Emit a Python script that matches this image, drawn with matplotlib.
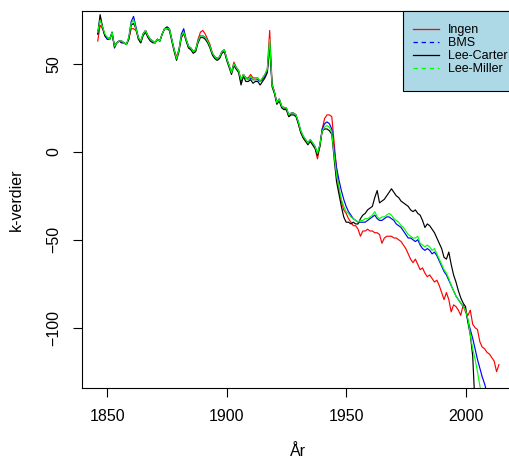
import matplotlib.pyplot as plt
from matplotlib.lines import Line2D
from matplotlib.patches import Rectangle

plt.rcParams['font.family'] = ['Liberation Sans', 'DejaVu Sans']

years = list(range(1846, 2015))

# k-verdier per metode, 1846-2014
ingen = [
    63, 72, 70, 66,
    64, 64, 67, 60, 62, 63, 62, 62, 61, 64,
    70, 70, 69, 65, 63, 67, 69, 66, 64, 63,
    62, 64, 63, 67, 70, 71, 70, 64, 58, 54,
    58, 65, 67, 64, 60, 59, 57, 58, 64, 68,
    69, 67, 64, 61, 56, 54, 53, 54, 57, 58,
    53, 49, 45, 51, 48, 46, 41, 44, 42, 42,
    44, 42, 42, 42, 40, 42, 44, 47, 69, 39,
    34, 28, 30, 26, 25, 24, 20, 22, 22, 21,
    16, 11, 8, 6, 5, 6, 4, 2, -4, 3,
    13, 19, 21, 21, 20, 5, -10, -22, -28, -33,
    -35, -38, -40, -42, -42, -44, -48, -45, -45, -44,
    -45, -45, -46, -46, -47, -52, -49, -48, -48, -48,
    -49, -49, -50, -51, -53, -55, -58, -61, -63, -61,
    -64, -67, -66, -69, -71, -70, -72, -74, -73, -76,
    -80, -84, -80, -84, -91, -87, -88, -90, -93, -87,
    -91, -93, -90, -98, -100, -101, -108, -111, -112, -114,
    -115, -117, -119, -125, -121,
]

bms = [
    67, 76, 71, 66,
    64, 64, 68, 59, 62, 63, 62, 62, 61, 65,
    74, 77, 71, 65, 62, 67, 69, 66, 64, 63,
    62, 64, 63, 67, 70, 71, 70, 64, 58, 53,
    58, 67, 70, 64, 60, 59, 57, 58, 63, 66,
    66, 65, 63, 60, 56, 54, 53, 54, 57, 58,
    53, 49, 45, 50, 48, 46, 40, 44, 42, 41,
    42, 41, 41, 41, 40, 41, 43, 46, 62, 38,
    34, 28, 30, 26, 25, 25, 21, 22, 22, 21,
    17, 12, 9, 7, 5, 7, 5, 3, -1, 4,
    13, 16, 17, 16, 13, 1, -9, -16, -22, -27,
    -31, -34, -36, -38, -39, -40, -40, -40, -40, -39,
    -38, -37, -36, -38, -39, -39, -38, -37, -37, -38,
    -39, -41, -42, -43, -45, -47, -49, -49, -50, -51,
    -50, -53, -55, -56, -55, -56, -58, -57, -59, -62,
    -65, -68, -70, -73, -76, -79, -82, -84, -86, -88,
    -90, -96, -101, -106, -112, -118, -123, -128, -132, -137,
    -142, -147, -152, -157, -162,
]

lee_carter = [
    67, 78, 71, 66,
    65, 64, 68, 60, 62, 63, 63, 62, 61, 64,
    72, 73, 70, 64, 62, 66, 68, 65, 63, 62,
    62, 64, 63, 67, 70, 70, 69, 63, 57, 52,
    57, 65, 68, 63, 59, 58, 56, 57, 62, 65,
    65, 64, 62, 59, 55, 53, 52, 53, 56, 57,
    52, 48, 44, 49, 47, 45, 38, 43, 40, 40,
    41, 39, 40, 40, 38, 40, 42, 45, 60, 37,
    33, 27, 29, 25, 24, 24, 20, 21, 21, 20,
    16, 11, 8, 6, 4, 6, 4, 2, -2, 3,
    12, 13, 13, 12, 10, -4, -17, -24, -31, -37,
    -40, -40, -41, -40, -41, -41, -38, -36, -35, -33,
    -32, -31, -26, -22, -29, -28, -27, -25, -23, -21,
    -23, -25, -26, -28, -29, -30, -31, -33, -34, -33,
    -35, -36, -39, -43, -41, -42, -44, -46, -49, -52,
    -55, -60, -61, -57, -64, -70, -74, -79, -83, -86,
    -88, -97, -104, -116, -145, -156, -163, -170, -177, -184,
    -191, -198, -205, -212, -219,
]

lee_miller = [
    68, 75, 71, 67,
    65, 64, 68, 60, 62, 63, 63, 62, 61, 65,
    73, 75, 70, 65, 63, 67, 69, 66, 64, 63,
    62, 64, 63, 67, 70, 70, 70, 64, 58, 53,
    58, 66, 68, 64, 60, 59, 57, 58, 63, 66,
    66, 65, 63, 60, 56, 54, 53, 54, 57, 58,
    53, 49, 45, 50, 48, 46, 41, 44, 42, 41,
    43, 41, 41, 42, 40, 42, 44, 47, 64, 38,
    34, 28, 30, 26, 25, 25, 21, 22, 22, 21,
    17, 12, 9, 7, 5, 7, 5, 3, -1, 4,
    12, 14, 15, 14, 11, -2, -13, -20, -27, -31,
    -34, -35, -37, -38, -39, -40, -39, -39, -38, -38,
    -37, -36, -34, -37, -38, -37, -37, -36, -35, -36,
    -38, -39, -40, -42, -43, -45, -47, -48, -49, -49,
    -48, -52, -53, -54, -53, -54, -56, -55, -58, -61,
    -64, -67, -69, -72, -76, -79, -82, -84, -86, -88,
    -90, -95, -104, -112, -118, -125, -133, -140, -146, -152,
    -158, -164, -170, -176, -182,
]

labels = ['Ingen', 'BMS', 'Lee-Carter', 'Lee-Miller']
colors = ['red', 'blue', 'black', '#00ff00']
styles = ['-', (0, (3.5, 3)), '-', (0, (3.5, 3))]
xticks = [1850, 1900, 1950, 2000]
yticks = [-100, -50, 0, 50]

fig = plt.figure(figsize=(5.09, 4.61), dpi=100)
ax = fig.add_axes([0.1605, 0.159, 0.8513, 0.8165])

for series, col in zip([ingen, bms, lee_carter, lee_miller], colors):
    ax.plot(years, series, color=col, lw=0.85)

ax.set_xlim(1839.28, 2020.72)
ax.set_ylim(-134.1, 79.9)
ax.set_xticks(xticks)
ax.set_yticks(yticks)
for sp in ax.spines.values():
    sp.set_linewidth(0.8)
ax.tick_params(length=6.5, width=0.8, labelsize=11.5, pad=9)
ax.tick_params(axis='y', labelrotation=90, pad=8)
for lab in ax.get_yticklabels():
    lab.set_va('center')

ax.set_xlabel('År', fontsize=11.5)
ax.set_ylabel('k-verdier', fontsize=11.5)
ax.xaxis.set_label_coords(0.5, -0.170)
ax.xaxis.label.set_va('center')
ax.yaxis.set_label_coords(-0.1516, 0.5)
ax.yaxis.label.set_va('center')

# legend box: light blue panel in the top right corner
ax.add_patch(Rectangle((0.7408, 0.789), 0.2592, 0.211, transform=ax.transAxes,
                       facecolor='lightblue', edgecolor='black', lw=0.8,
                       zorder=4, clip_on=False))
handles = [Line2D([], [], color=c, lw=0.9, ls=s) for c, s in zip(colors, styles)]
leg = ax.legend(handles, labels, loc='upper left', bbox_to_anchor=(0.7646, 0.9665),
                borderaxespad=0, borderpad=0, frameon=False, fontsize=9.0,
                handlelength=2.05, handletextpad=0.75, labelspacing=0.09)
leg.set_zorder(5)

fig.savefig('out.png', dpi=100)
